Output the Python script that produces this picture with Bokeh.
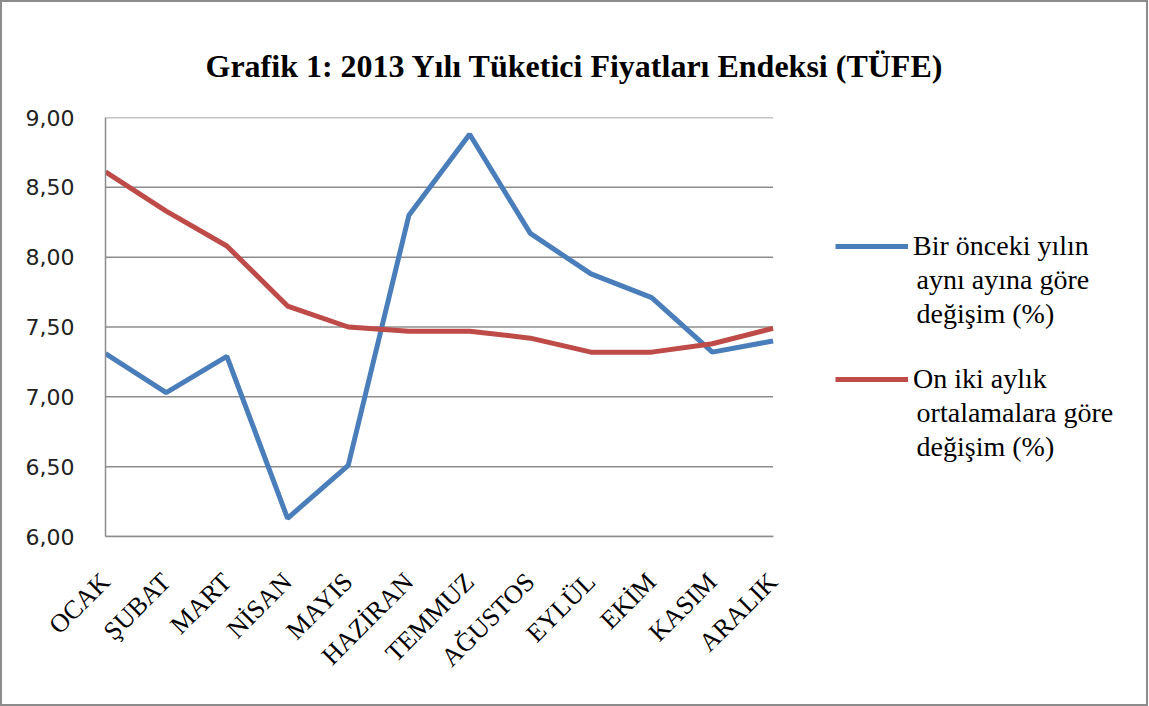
import math
from bokeh.plotting import figure
from bokeh.models import (FixedTicker, Range1d, Legend, LegendItem, Title,
                          ColumnDataSource)
from bokeh.core.properties import value
from bokeh.embed import file_html
from bokeh.resources import INLINE

months = ["OCAK", "ŞUBAT", "MART", "NİSAN", "MAYIS", "HAZİRAN",
          "TEMMUZ", "AĞUSTOS", "EYLÜL", "EKİM", "KASIM", "ARALIK"]
yillik = [7.31, 7.03, 7.29, 6.13, 6.51, 8.30, 8.88, 8.17, 7.88, 7.71, 7.32, 7.40]
ortalama = [8.61, 8.33, 8.08, 7.65, 7.50, 7.47, 7.47, 7.42, 7.32, 7.32, 7.38, 7.49]
series_lines = [["Bir önceki yılın", "aynı ayına göre", "değişim (%)"],
                ["On iki aylık", "ortalamalara göre", "değişim (%)"]]
title_text = "Grafik 1: 2013 Yılı Tüketici Fiyatları Endeksi (TÜFE)"
y_ticks = [6.0, 6.5, 7.0, 7.5, 8.0, 8.5, 9.0]
y_tick_labels = ["6,00", "6,50", "7,00", "7,50", "8,00", "8,50", "9,00"]

BLUE = "#4A7EBB"
RED = "#BE4B48"
GRID = "#8c8c8c"
SERIF = "Liberation Serif"

n = len(months)
src = ColumnDataSource(dict(x=list(range(n)), a=yillik, b=ortalama))
grid_src = ColumnDataSource(dict(x0=[0] * len(y_ticks), x1=[n - 1] * len(y_ticks),
                                 y=y_ticks))

W, H = 1148, 706           # outer size incl. 2px border
CW = W - 4
FL, FT, FB = 103, 115, 530  # frame edges (layout pixels)
DATA_W = 665                # pixel width covered by the 12 months
FRAME_H = 419               # pixel height covered by 6..9
# the frame reaches to the right edge so the legend (drawn inside it) is not clipped
x_end = (n - 1) * (CW - FL) / DATA_W

p = figure(width=W, height=H, output_backend="svg", toolbar_location=None,
           x_range=Range1d(0, x_end), y_range=Range1d(6, 9),
           min_border_left=FL, min_border_right=0,
           min_border_top=FT, min_border_bottom=H - 4 - FB)
p.styles = {"border": "2px solid #8c8c8c", "box-sizing": "border-box"}
p.outline_line_color = None
p.background_fill_color = "white"

p.title = Title(text=title_text, align="left", offset=100,
                text_font=SERIF, text_font_style="bold",
                text_font_size="32px", text_color="black", standoff=68)

# horizontal grid lines, limited to the month span
p.segment(x0="x0", y0="y", x1="x1", y1="y", source=grid_src,
          line_color=GRID, line_width=1.5)

r1 = p.line("x", "a", source=src, line_color=BLUE, line_width=5)
r2 = p.line("x", "b", source=src, line_color=RED, line_width=5)

# axes
p.xaxis.bounds = (0, n - 1)
p.xaxis.ticker = FixedTicker(ticks=list(range(n)))
p.xaxis.major_label_overrides = {i: m for i, m in enumerate(months)}
p.xaxis.major_label_orientation = math.pi / 4
p.xaxis.major_label_text_font = SERIF
p.xaxis.major_label_text_font_size = "26px"
p.xaxis.major_label_text_color = "black"
p.xaxis.major_label_standoff = 35
p.xaxis.major_tick_line_color = None
p.xaxis.minor_tick_line_color = None
p.xaxis.axis_line_color = GRID
p.xaxis.axis_line_width = 1.5

p.yaxis.ticker = FixedTicker(ticks=y_ticks)
p.yaxis.major_label_overrides = {t: s for t, s in zip(y_ticks, y_tick_labels)}
p.yaxis.major_label_text_font = "DejaVu Sans"
p.yaxis.major_label_text_font_size = "22px"
p.yaxis.major_label_text_color = "#222222"
p.yaxis.major_label_standoff = 25
p.yaxis.major_tick_line_color = None
p.yaxis.minor_tick_line_color = None
p.yaxis.axis_line_color = GRID
p.yaxis.axis_line_width = 1.5

p.xgrid.grid_line_color = None
p.ygrid.grid_line_color = None

# legend: glyph + first line of each label; following lines as text below it
LINE_H = 34
ITEM_GAP = 133
legend = Legend(items=[LegendItem(label=series_lines[0][0], renderers=[r1]),
                       LegendItem(label=series_lines[1][0], renderers=[r2])],
                location=(730, 140), border_line_color=None,
                background_fill_alpha=0, glyph_width=73, glyph_height=LINE_H,
                label_height=LINE_H, label_text_line_height=1.0,
                label_text_font=SERIF, label_text_font_size="28px",
                label_text_color="black",
                padding=0, margin=0, spacing=ITEM_GAP - LINE_H,
                label_standoff=5)
p.add_layout(legend, "center")

# continuation lines, positioned in pixels below each legend entry's first line
first_line_px = [128, 128 + ITEM_GAP]     # below the frame top
text_x_px = 808                            # right of the frame's left edge
tx, ty, tt = [], [], []
for lines, y0 in zip(series_lines, first_line_px):
    for k, txt in enumerate(lines[1:], start=1):
        tx.append(text_x_px * (n - 1) / DATA_W)
        ty.append(9 - (y0 + k * LINE_H) * 3 / FRAME_H)
        tt.append(txt)
p.text(x=tx, y=ty, text=tt, text_font=value(SERIF), text_font_size="28px",
       text_color="black", text_baseline="middle", text_align="left")

open("out.html", "w").write(file_html(p, INLINE))
